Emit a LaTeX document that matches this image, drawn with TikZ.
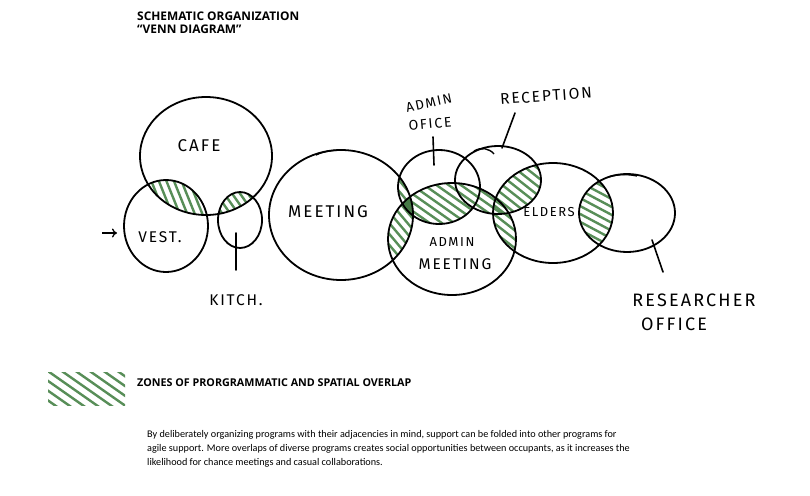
\documentclass[tikz,border=0pt]{standalone}
\usepackage{fontspec}
\setmainfont{Open Sans}
\newfontfamily\bodyfont{Carlito}
\newfontfamily\hand[LetterSpace=12]{Fira Sans}
\usetikzlibrary{arrows.meta}
\definecolor{hatchgreen}{RGB}{88,142,88}
\definecolor{darkgreen}{RGB}{70,122,70}

\newcommand\hatchat[4]{%
  \begin{scope}[shift={(#1,#2)},rotate=#3]
    \foreach \k in {-16,...,16} \draw[hatchline] (-130,\k*#4) -- (130,\k*#4);
  \end{scope}}

\def\cafeP{(206,156) ellipse [x radius=66, y radius=59]}
\def\vestP{(166,226) ellipse [x radius=42, y radius=46]}
\def\kitchP{(240,220) ellipse [x radius=22, y radius=28]}
\def\meetP{(341,215) ellipse [x radius=72, y radius=65]}
\def\aoffP{(439,187) ellipse [x radius=41, y radius=37]}
\def\recP{(498,180) ellipse [x radius=43, y radius=34]}
\def\ameetP{(452,239) ellipse [x radius=64, y radius=56]}
\def\eldP{(553,213) ellipse [x radius=60, y radius=50]}
\def\resP{(627,213) ellipse [x radius=48, y radius=39]}

\begin{document}
\begin{tikzpicture}[x=1pt,y=-1pt,
  ring/.style={draw=black,line width=1.8pt},
  hatchline/.style={draw=hatchgreen,line width=2.4pt},
  lbl/.style={font=\hand\fontsize{15.5}{15.5}\selectfont,inner sep=0pt},
  lead/.style={draw=black,line width=1.6pt,line cap=round},
]
\useasboundingbox (0,0) rectangle (810,495);

% ---- hatched overlaps ----
\begin{scope}\clip \cafeP; \clip \vestP; \hatchat{180}{196}{-68}{7}\end{scope}
\begin{scope}\clip \cafeP; \clip \kitchP; \hatchat{238}{202}{-55}{6.5}\end{scope}
\begin{scope}\clip \meetP; \clip \aoffP \ameetP; \hatchat{400}{225}{-50}{7}\end{scope}
\begin{scope}\clip \ameetP; \clip \aoffP \recP; \hatchat{470}{200}{-35}{7}\end{scope}
\begin{scope}\clip \eldP; \clip \recP \ameetP; \hatchat{510}{200}{-38}{7}\end{scope}
\begin{scope}\clip \eldP; \clip \resP; \hatchat{597}{215}{-28}{7}\end{scope}
\begin{scope}\clip \meetP; \clip \aoffP; \clip \ameetP; \fill[darkgreen] (380,180) rectangle (430,240);\end{scope}

% ---- outlines ----
\draw[ring] \cafeP;
\draw[ring] \vestP;
\draw[ring] \kitchP;
\draw[ring] \meetP;
\draw[ring] \aoffP;
\draw[ring] \recP;
\draw[ring] \ameetP;
\draw[ring] \eldP;
\draw[ring] \resP;
% hand-drawn overshoot strokes
\draw[ring,line width=1.4pt] (316,155) .. controls (324,151) and (334,150) .. (344,150);
\draw[ring,line width=1.4pt] (474,151) .. controls (481,147) and (489,148) .. (494,154);
\draw[ring,line width=1.4pt] (608,177) .. controls (618,174) and (628,174) .. (637,176);

% ---- labels ----
\node[lbl,font=\hand\fontsize{17}{17}\selectfont] (cafe) at (199,146) {CAFE};
\node[lbl] (vest) at (160,237) {VEST.};
\node[lbl] (kitch) at (236,300) {KITCH.};
\node[lbl,font=\hand\fontsize{17}{17}\selectfont] (meet) at (328,212) {MEETING};
\node[lbl,font=\hand\fontsize{13.5}{13.5}\selectfont,rotate=12] (aoff1) at (429,103) {ADMIN};
\node[lbl,font=\hand\fontsize{14}{14}\selectfont,rotate=5] (aoff2) at (430,124) {OFICE};
\node[lbl,rotate=4] (rec) at (546,96) {RECEPTION};
\node[lbl,font=\hand\fontsize{13}{13}\selectfont] (am1) at (452,242) {ADMIN};
\node[lbl] (am2) at (455,264) {MEETING};
\node[lbl,font=\hand\fontsize{13}{13}\selectfont] (eld) at (549,212) {ELDERS};
\node[lbl,font=\hand\fontsize{18}{18}\selectfont] (res1) at (694,300) {RESEARCHER};
\node[lbl,font=\hand\fontsize{18}{18}\selectfont] (res2) at (674,324) {OFFICE};

% ---- leader lines ----
\coordinate (k1) at (236,233); \coordinate (k2) at (236,270);
\draw[lead] (k1) -- (k2);
\coordinate (a1) at (433,137); \coordinate (a2) at (434,165);
\draw[lead] (a1) -- (a2);
\coordinate (r1) at (515,113); \coordinate (r2) at (502,148);
\draw[lead] (r1) -- (r2);
\coordinate (o1) at (652,240); \coordinate (o2) at (663,272);
\draw[lead] (o1) -- (o2);
\coordinate (e1) at (102,233); \coordinate (e2) at (117,233);
\draw[line width=1.3pt,-{To[length=5pt,width=9pt]}] (e1) -- (e2);

% ---- title ----
\node[anchor=west,inner sep=0pt,font=\bfseries\fontsize{11.9}{13}\selectfont] (t1) at (137,16) {SCHEMATIC ORGANIZATION};
\node[anchor=west,inner sep=0pt,font=\bfseries\fontsize{11.9}{13}\selectfont] (t2) at (137,29) {“VENN DIAGRAM”};

% ---- legend ----
\begin{scope}
  \clip (48,372) rectangle (125,405);
  \hatchat{86}{388}{-35}{8}
\end{scope}
\node[anchor=west,inner sep=0pt,font=\bfseries\fontsize{10.75}{12}\selectfont] (leg) at (137,383) {ZONES OF PRORGRAMMATIC AND SPATIAL OVERLAP};

% ---- paragraph ----
\node[anchor=north west,inner sep=0pt,align=left,font=\bodyfont\fontsize{10.2}{14}\selectfont] (par) at (147,430)
 {By deliberately organizing programs with their adjacencies in mind, support can be folded into other programs for\\
  agile support. More overlaps of diverse programs creates social opportunities between occupants, as it increases the\\
  likelihood for chance meetings and casual collaborations.};
\end{tikzpicture}
\end{document}
